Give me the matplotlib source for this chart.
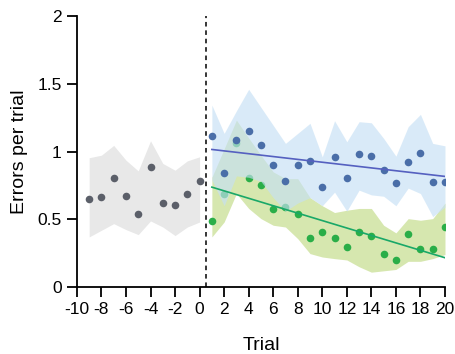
import matplotlib.pyplot as plt
import numpy as np

plt.rcParams['font.family'] = ['Liberation Sans', 'DejaVu Sans']
plt.rcParams['axes.unicode_minus'] = False

# baseline trials (before the switch)
pre_trials = np.arange(-9, 1)
pre_mean = [0.653, 0.668, 0.801, 0.670, 0.540, 0.885, 0.621, 0.606, 0.687, 0.786]
pre_upper = [0.954, 0.973, 1.045, 0.936, 0.857, 1.079, 0.912, 0.862, 0.931, 0.961]
pre_lower = [0.370, 0.419, 0.468, 0.424, 0.387, 0.488, 0.443, 0.380, 0.443, 0.480]

# trials after the switch
post_trials = np.arange(1, 21)
blue_mean = [1.114, 0.845, 1.084, 1.153, 1.047, 0.902, 0.786, 0.902, 0.931, 0.739,
             0.961, 0.806, 0.981, 0.968, 0.862, 0.769, 0.922, 0.990, 0.776, 0.776]
blue_upper = [1.343, 1.134, 1.300, 1.459, 1.326, 1.193, 1.060, 1.134, 1.208, 0.961,
              1.227, 1.072, 1.220, 1.212, 1.097, 0.966, 1.183, 1.274, 1.060, 1.042]
blue_lower = [0.790, 0.600, 0.820, 0.810, 0.780, 0.660, 0.560, 0.620, 0.660, 0.600,
              0.700, 0.560, 0.715, 0.680, 0.670, 0.600, 0.730, 0.690, 0.520, 0.590]

green_mean = [0.490, 0.688, 1.065, 0.801, 0.752, 0.574, 0.589, 0.540, 0.360, 0.407,
              0.360, 0.293, 0.409, 0.377, 0.244, 0.197, 0.392, 0.279, 0.279, 0.441]
green_upper = [0.810, 1.020, 1.232, 1.100, 0.973, 0.850, 0.800, 0.800, 0.660, 0.600,
               0.550, 0.567, 0.580, 0.580, 0.456, 0.400, 0.505, 0.493, 0.505, 0.620]
green_lower = [0.370, 0.480, 0.690, 0.580, 0.505, 0.456, 0.443, 0.357, 0.247, 0.222,
               0.210, 0.200, 0.150, 0.110, 0.120, 0.130, 0.190, 0.190, 0.210, 0.240]

fig = plt.figure(figsize=(4.55, 3.54), dpi=100)
ax = fig.add_axes([0.169, 0.189, 0.809, 0.766])

# baseline
ax.fill_between(pre_trials, pre_lower, pre_upper, color='#e8e8e8', lw=0, zorder=1)
ax.scatter(pre_trials, pre_mean, s=30, color='#5b5f69', lw=0, zorder=3)

# green condition
ax.fill_between(post_trials, green_lower, green_upper, color='#c9df95', alpha=0.75, lw=0, zorder=1)
ax.scatter(post_trials, green_mean, s=30, color='#2aae48', lw=0, zorder=2)

# blue condition drawn over the green one
ax.fill_between(post_trials, blue_lower, blue_upper, color='#c6e0f5', alpha=0.65, lw=0, zorder=2.5)
ax.scatter(post_trials, blue_mean, s=30, color='#4a6ea8', lw=0, zorder=3)

# linear fits
for vals, col in [(blue_mean, '#5560c0'), (green_mean, '#19a868')]:
    k, b = np.polyfit(post_trials, vals, 1)
    ax.plot(post_trials, k * post_trials + b, color=col, lw=1.2, zorder=4)

ax.axvline(0.5, color='black', ls=(0, (3, 2.5)), lw=1.1, zorder=5)

ax.set_xlim(-10, 20)
ax.set_ylim(0, 2)
ax.set_xticks(np.arange(-10, 21, 2))
ax.set_yticks([0, 0.5, 1, 1.5, 2])
ax.set_yticklabels(['0', '0.5', '1', '1.5', '2'])
ax.spines['top'].set_visible(False)
ax.spines['right'].set_visible(False)
for s in ['left', 'bottom']:
    ax.spines[s].set_linewidth(1.3)
ax.tick_params(length=7, width=1.3, labelsize=12.5, pad=4)
ax.set_xlabel('Trial', fontsize=14, labelpad=14)
ax.set_ylabel('Errors per trial', fontsize=14, labelpad=7)

fig.savefig('out.png', dpi=100)
